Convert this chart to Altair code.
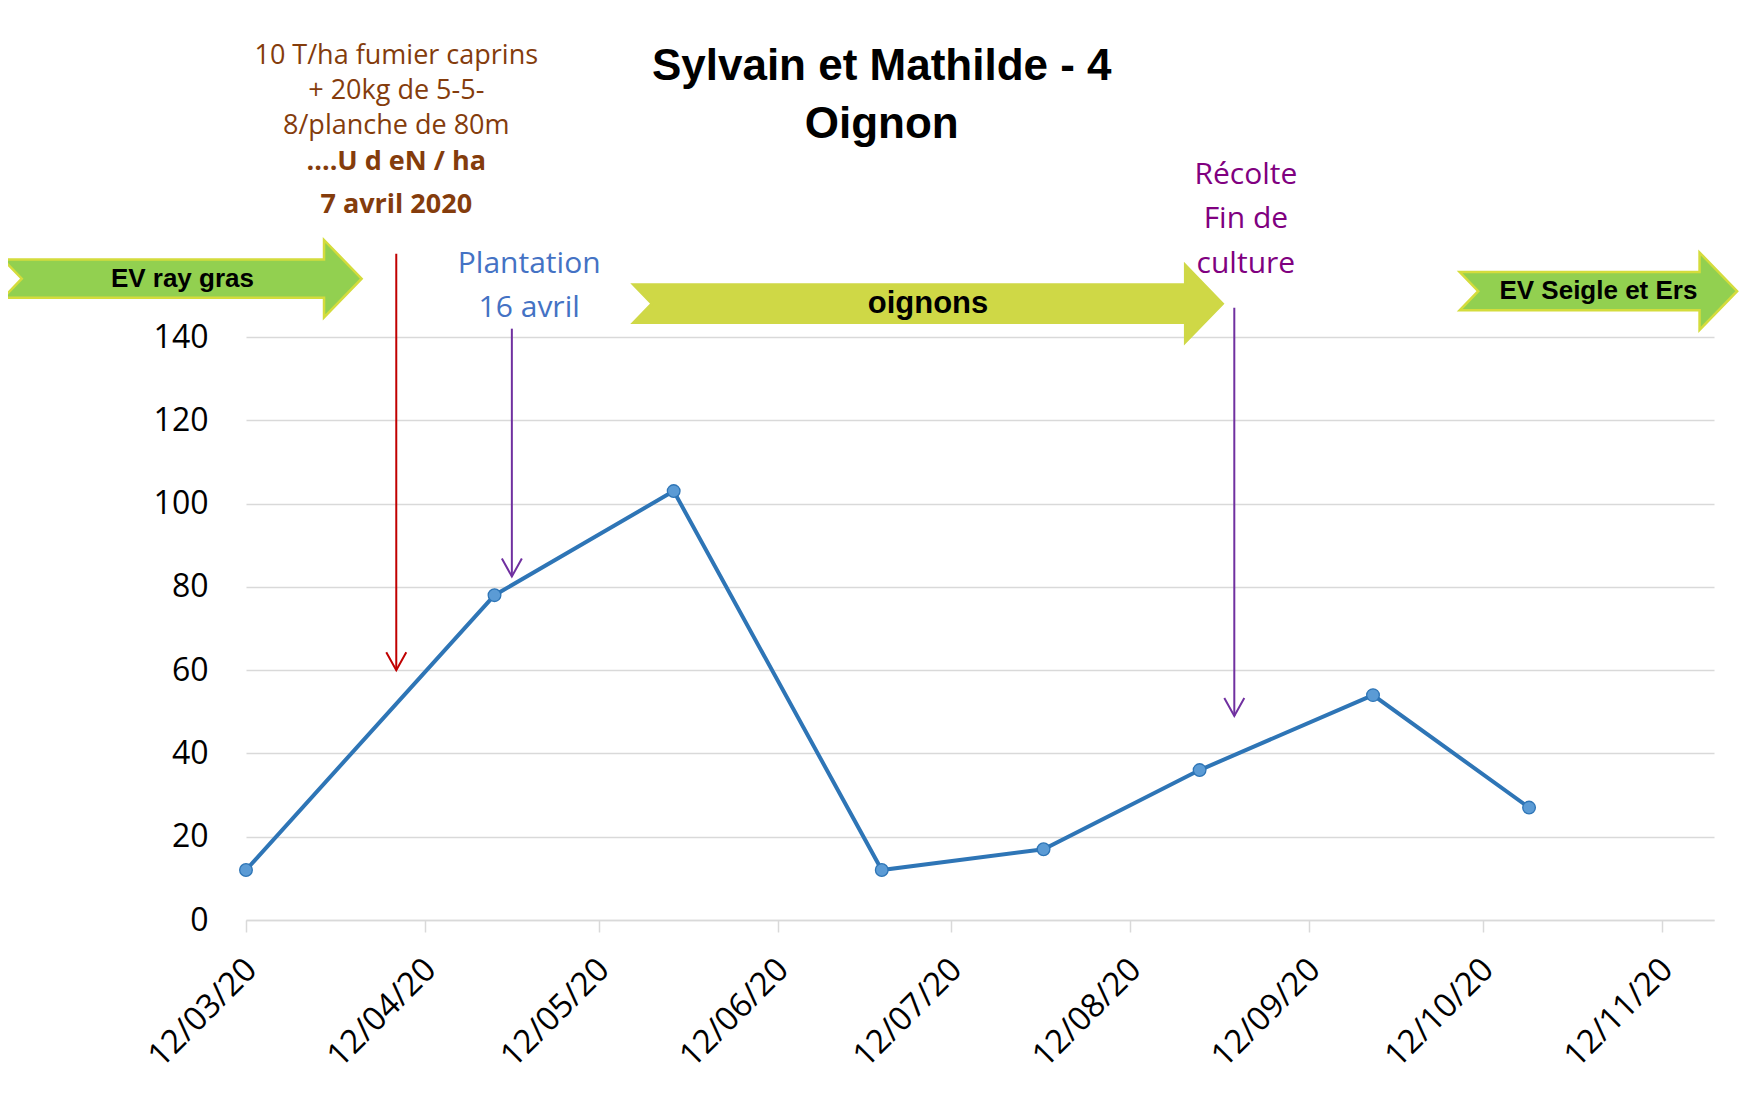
import altair as alt
import pandas as pd

# ---------------- data ----------------
DATES = ["2020-03-12", "2020-04-24", "2020-05-25", "2020-06-30",
         "2020-07-28", "2020-08-24", "2020-09-23", "2020-10-20"]
VALUES = [12, 78, 103, 12, 17, 36, 54, 27]

TICK_DATES = ["2020-03-12", "2020-04-12", "2020-05-12", "2020-06-12", "2020-07-12",
              "2020-08-12", "2020-09-12", "2020-10-12", "2020-11-12"]
Y_TICKS = [0, 20, 40, 60, 80, 100, 120, 140]
X_DOMAIN = ["2020-03-12", "2020-11-21"]
Y_DOMAIN = [0, 140]

# vertical annotation arrows
ARROW_NAMES = ["fertilisation", "plantation", "recolte"]
ARROW_DATES = ["2020-04-07", "2020-04-27", "2020-08-30"]
ARROW_TOP = [160, 142, 147]
ARROW_TIP = [60, 82.5, 49]

# crop period banners
BAND_LABELS = ["EV ray gras", "oignons", "EV Seigle et  Ers"]
BAND_START = ["2020-01-30", "2020-05-18", "2020-10-08"]
BAND_END = ["2020-04-01", "2020-08-28", "2020-11-25"]
BAND_LEVEL = [154, 148, 151]

# text annotations
TITLE_LINES = ["Sylvain et Mathilde - 4", "Oignon"]
TITLE_DATE = "2020-06-30"
TITLE_LEVELS = [201.6, 187.9]

FERTI_LINES = ["10 T/ha fumier caprins", "+ 20kg de 5-5-", "8/planche de 80m"]
FERTI_LEVELS = [205.6, 197.2, 188.8]
FERTI_BOLD_LINES = ["....U d eN / ha", "7 avril 2020"]
FERTI_BOLD_LEVELS = [180.2, 169.7]
FERTI_DATE = "2020-04-07"

PLANT_LINES = ["Plantation", "16 avril"]
PLANT_LEVELS = [155.3, 144.7]
PLANT_DATE = "2020-04-30"

RECOLTE_LINES = ["Récolte", "Fin de", "culture"]
RECOLTE_LEVELS = [176.8, 166.2, 155.3]
RECOLTE_DATE = "2020-09-01"

# ---------------- styles ----------------
SANS = "Open Sans"
BOLD_FONT = "Liberation Sans"
BODY_HALF = 4.6
HEAD_HALF = 9.3
HEAD_DAYS = 6.5
NOTCH_DAYS = 3.2


def ts(s):
    return pd.Timestamp(s).strftime("%Y-%m-%dT%H:%M:%S")


def dt(s):
    t = pd.Timestamp(s)
    return alt.DateTime(year=t.year, month=t.month, date=t.day)


xscale = alt.Scale(domain=[dt(d) for d in X_DOMAIN], nice=False)
yscale = alt.Scale(domain=Y_DOMAIN, nice=False, zero=False)

X_AXIS = alt.Axis(values=[dt(d) for d in TICK_DATES], format="%d/%m/%y",
                  labelAngle=-45, labelAlign="right", labelBaseline="middle",
                  labelFont=SANS, labelFontSize=33, labelColor="#000000",
                  labelPadding=32, labelOffset=5, title=None,
                  grid=False, ticks=True, tickColor="#D9D9D9", tickSize=12, tickWidth=1.5,
                  domain=True, domainColor="#D9D9D9", domainWidth=1.5)
Y_AXIS = alt.Axis(values=Y_TICKS, labelFont=SANS, labelFontSize=32, labelColor="#000000",
                  labelPadding=38, ticks=False, domain=False, title=None,
                  grid=True, gridColor="#D9D9D9", gridWidth=1.5)


def X(field="date"):
    return alt.X(f"{field}:T", scale=xscale, axis=X_AXIS, title=None)


def Y(field="v"):
    return alt.Y(f"{field}:Q", scale=yscale, axis=Y_AXIS, title=None)


# ---------------- main series ----------------
df = pd.DataFrame({"date": [ts(d) for d in DATES], "v": VALUES})

line = alt.Chart(df).mark_line(color="#2E75B6", strokeWidth=4).encode(x=X(), y=Y())
points = alt.Chart(df).mark_point(filled=True, fill="#5B9BD5", stroke="#2E75B6",
                                  strokeWidth=1.3, size=160, opacity=1).encode(x=X(), y=Y())

# ---------------- banners (block arrows) ----------------
band_rows = []
for lab, s, e, c in zip(BAND_LABELS, BAND_START, BAND_END, BAND_LEVEL):
    s0 = pd.Timestamp(s)
    e0 = pd.Timestamp(e)
    hb = e0 - pd.Timedelta(days=HEAD_DAYS)
    nt = s0 + pd.Timedelta(days=NOTCH_DAYS)
    verts = [(s0, c + BODY_HALF), (hb, c + BODY_HALF), (hb, c + HEAD_HALF), (e0, c),
             (hb, c - HEAD_HALF), (hb, c - BODY_HALF), (s0, c - BODY_HALF), (nt, c)]
    for i, (d, v) in enumerate(verts):
        band_rows.append({"band": lab, "i": i, "date": d.strftime("%Y-%m-%dT%H:%M:%S"), "v": v})
bands_df = pd.DataFrame(band_rows)

band_fill = {BAND_LABELS[0]: ("#92D050", "#D4DC3C"),
             BAND_LABELS[1]: ("#CFD846", "#CFD846"),
             BAND_LABELS[2]: ("#92D050", "#D4DC3C")}
band_layers = []
for lab in BAND_LABELS:
    f, s = band_fill[lab]
    band_layers.append(
        alt.Chart(bands_df[bands_df.band == lab]).mark_line(
            interpolate="linear-closed", fill=f, stroke=s, strokeWidth=2.5
        ).encode(x=X(), y=Y(), order="i:Q"))

band_text_df = pd.DataFrame({
    "label": BAND_LABELS,
    "date": [(pd.Timestamp(s) + (pd.Timestamp(e) - pd.Timestamp(s)) / 2).strftime("%Y-%m-%dT%H:%M:%S")
             for s, e in zip(BAND_START, BAND_END)],
    "v": BAND_LEVEL,
})
band_text_small = alt.Chart(band_text_df[band_text_df.label != "oignons"]).mark_text(
    font=BOLD_FONT, fontWeight="bold", fontSize=26, color="#000000", baseline="middle", align="center"
).encode(x=X(), y=Y(), text="label:N")
band_text_big = alt.Chart(band_text_df[band_text_df.label == "oignons"]).mark_text(
    font=BOLD_FONT, fontWeight="bold", fontSize=31, color="#000000", baseline="middle", align="center"
).encode(x=X(), y=Y(), text="label:N")

# ---------------- vertical arrows ----------------
arrows_df = pd.DataFrame({"name": ARROW_NAMES, "date": [ts(d) for d in ARROW_DATES],
                          "top": ARROW_TOP, "tip": ARROW_TIP})
arrow_color = alt.Color("name:N", legend=None,
                        scale=alt.Scale(domain=ARROW_NAMES, range=["#C00000", "#7030A0", "#7030A0"]))
arrow_lines = alt.Chart(arrows_df).mark_rule(strokeWidth=2).encode(
    x=X(), y=Y("top"), y2="tip:Q", color=arrow_color)
arrow_heads = alt.Chart(arrows_df).mark_point(
    shape="M-1,-1.8L0,0L1,-1.8", size=400, filled=False, strokeWidth=2, opacity=1
).encode(x=X(), y=Y("tip"), color=arrow_color)


# ---------------- text annotations ----------------
def text_layer(lines, levels, date, color, size, font, weight="normal"):
    d = pd.DataFrame({"t": lines, "v": levels, "date": [ts(date)] * len(lines)})
    return alt.Chart(d).mark_text(
        font=font, fontSize=size, fontWeight=weight, color=color,
        align="center", baseline="alphabetic"
    ).encode(x=X(), y=Y(), text="t:N")


title = text_layer(TITLE_LINES, TITLE_LEVELS, TITLE_DATE, "#000000", 44, BOLD_FONT, "bold")
ferti = text_layer(FERTI_LINES, FERTI_LEVELS, FERTI_DATE, "#843C0C", 27, SANS)
ferti_b = text_layer(FERTI_BOLD_LINES, FERTI_BOLD_LEVELS, FERTI_DATE, "#843C0C", 27, SANS, "bold")
plant = text_layer(PLANT_LINES, PLANT_LEVELS, PLANT_DATE, "#4472C4", 30, SANS)
recolte = text_layer(RECOLTE_LINES, RECOLTE_LEVELS, RECOLTE_DATE, "#800080", 30, SANS)

chart = alt.layer(
    line, points, *band_layers, band_text_small, band_text_big,
    arrow_lines, arrow_heads, title, ferti, ferti_b, plant, recolte
).properties(
    width=1468, height=583,
    autosize=alt.AutoSizeParams(type="none"),
    padding={"left": 238, "top": 329, "right": 30, "bottom": 160},
    background="#FFFFFF",
).configure_view(stroke=None)

chart.save("out.html", embed_options={"renderer": "svg", "actions": False})
